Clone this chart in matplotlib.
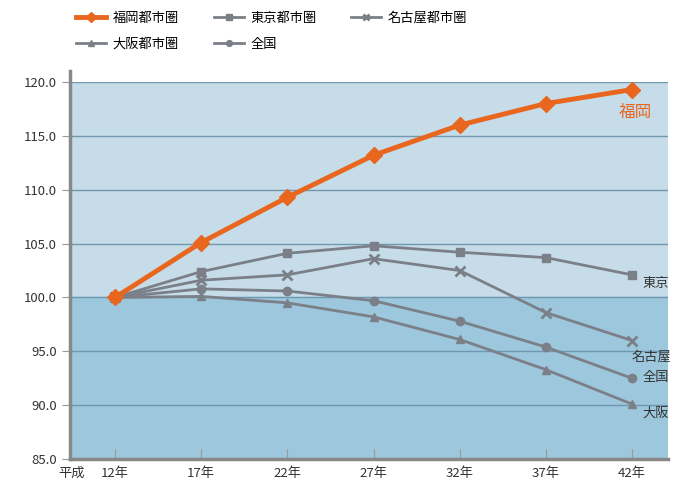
import matplotlib
matplotlib.use("Agg")
import matplotlib.pyplot as plt

plt.rcParams['font.family'] = ['Noto Sans CJK JP', 'DejaVu Sans']

years = ["12年", "17年", "22年", "27年", "32年", "37年", "42年"]
fukuoka = [100.0, 105.1, 109.3, 113.2, 116.0, 118.0, 119.3]
tokyo = [100.0, 102.4, 104.1, 104.8, 104.2, 103.7, 102.1]
nagoya = [100.0, 101.6, 102.1, 103.6, 102.5, 98.6, 96.0]
osaka = [100.0, 100.1, 99.5, 98.2, 96.1, 93.3, 90.1]
zenkoku = [100.0, 100.8, 100.6, 99.7, 97.8, 95.4, 92.5]
yticks = [85.0, 90.0, 95.0, 100.0, 105.0, 110.0, 115.0, 120.0]

orange = "#e8661e"
gray = "#7b8088"

fig = plt.figure(figsize=(6.75, 4.91), dpi=100)
ax = fig.add_axes([0.104, 0.065, 0.886, 0.768])
x = list(range(len(years)))
xmin, xmax = -0.52, 6.42
ax.set_xlim(xmin, xmax)
ax.set_ylim(85, 120)

ax.axhspan(100, 120, color="#c6dce8", zorder=0)
ax.axhspan(85, 100, color="#9cc7dc", zorder=0)
for v in yticks[1:]:
    ax.axhline(v, color="#6f97ad", lw=1.0, zorder=1)

ax.plot(x, tokyo, color=gray, lw=2, marker="s", ms=6, zorder=3, label="東京都市圏")
ax.plot(x, nagoya, color=gray, lw=2, marker="x", ms=7, mew=2, zorder=3, label="名古屋都市圏")
ax.plot(x, zenkoku, color=gray, lw=2, marker="o", ms=6, zorder=3, label="全国")
ax.plot(x, osaka, color=gray, lw=2, marker="^", ms=6, zorder=3, label="大阪都市圏")
ax.plot(x, fukuoka, color=orange, lw=3.5, marker="D", ms=8, zorder=4, label="福岡都市圏")

ax.set_yticks(yticks)
ax.set_yticklabels([f"{v:.1f}" for v in yticks], fontsize=9.5, color="#333333")
ax.set_xticks(x)
ax.set_xticklabels(years, fontsize=9.5, color="#333333")
ax.tick_params(axis="x", direction="in", length=7, color="#999999", pad=6)
ax.tick_params(axis="y", direction="out", length=6, color="#999999")
for s in ["top", "right"]:
    ax.spines[s].set_visible(False)
ax.spines["left"].set_color("#888888")
ax.spines["left"].set_linewidth(2.5)
ax.spines["left"].set_bounds(85, 121)
ax.spines["bottom"].set_color("#888888")
ax.spines["bottom"].set_linewidth(2.5)
ax.text(-0.5, -0.021, "平成", transform=ax.get_xaxis_transform(), ha="center", va="top", fontsize=9.5, color="#333333")

ax.text(5.85, fukuoka[-1] - 1.3, "福岡", color=orange, fontsize=12, ha="left", va="top", zorder=5)
ax.text(6.12, tokyo[-1] - 0.2, "東京", color="#333333", fontsize=9.5, ha="left", va="top", zorder=5)
ax.text(6.0, nagoya[-1] - 0.9, "名古屋", color="#333333", fontsize=9.5, ha="left", va="top", zorder=5)
ax.text(6.12, zenkoku[-1] + 0.7, "全国", color="#333333", fontsize=9.5, ha="left", va="top", zorder=5)
ax.text(6.12, osaka[-1] - 0.2, "大阪", color="#333333", fontsize=9.5, ha="left", va="top", zorder=5)

handles, labels = ax.get_legend_handles_labels()
order = [4, 3, 0, 2, 1]
fig.legend([handles[i] for i in order], [labels[i] for i in order], loc="upper left",
           bbox_to_anchor=(0.095, 1.0), ncol=3, frameon=False, fontsize=9.5,
           handlelength=2.3, columnspacing=2.6, labelspacing=1.0, handletextpad=0.5,
           markerscale=0.7)

fig.savefig("out.png", dpi=100)
